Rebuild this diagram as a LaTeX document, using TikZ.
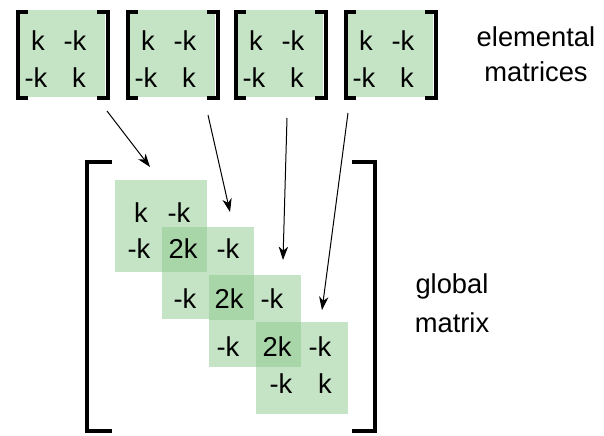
\documentclass[tikz,border=0pt]{standalone}
\usepackage{fontspec}
\setmainfont{Liberation Sans}
\usetikzlibrary{arrows.meta}
\definecolor{lg}{RGB}{197,228,197}
\definecolor{dg}{RGB}{168,214,168}
\tikzset{
  ent/.style={anchor=base, inner sep=0pt, font=\fontsize{20.5}{24}\selectfont},
  lbl/.style={anchor=base, inner sep=0pt, font=\fontsize{20.5}{24}\selectfont},
  elem/.style={fill=lg, draw=none, inner sep=0pt, minimum width=63.75pt, minimum height=65.25pt},
  blk/.style={fill=lg, draw=none, inner sep=0pt, minimum width=69pt, minimum height=69pt},
  ovl/.style={fill=dg, draw=none, inner sep=0pt, minimum width=33.75pt, minimum height=33.75pt},
  brk/.style={line width=3pt, line join=miter},
  arr/.style={line width=0.75pt, -{Stealth[length=10pt, width=7pt, inset=3pt]}}
}
\begin{document}
\begin{tikzpicture}[x=0.75pt,y=-0.75pt]
\useasboundingbox (0,0) rectangle (604,436);

% elemental matrices
\foreach \i/\x in {1/15,2/125,3/233,4/343}{
  \node[elem] (e\i) at (\x+47.5,53.5) {};
  \draw[brk] (\x+13,12) -- (\x+2.5,12) -- (\x+2.5,98) -- (\x+13,98);
  \draw[brk] (\x+82,12) -- (\x+92.5,12) -- (\x+92.5,98) -- (\x+82,98);
  \node[ent] (e\i a) at (\x+23,50) {k};
  \node[ent] (e\i b) at (\x+60,50) {-k};
  \node[ent] (e\i c) at (\x+21,87) {-k};
  \node[ent] (e\i d) at (\x+64,87) {k};
}

% global matrix blocks
\node[blk] (b1) at (161,226) {};
\node[blk] (b2) at (208,273) {};
\node[blk] (b3) at (255,321) {};
\node[blk] (b4) at (302,368) {};
\node[ovl] (o1) at (184.5,249.5) {};
\node[ovl] (o2) at (231.5,297) {};
\node[ovl] (o3) at (278.5,344.5) {};

% global brackets
\draw[brk] (112,162) -- (87,162) -- (87,431) -- (112,431);
\draw[brk] (352,162) -- (375,162) -- (375,431) -- (352,431);

% global entries
\node[ent] (g11) at (141,222) {k};
\node[ent] (g12) at (179,222) {-k};
\node[ent] (g21) at (139,258) {-k};
\node[ent] (g22) at (183,258) {2k};
\node[ent] (g23) at (228,258) {-k};
\node[ent] (g32) at (185,308) {-k};
\node[ent] (g33) at (229,308) {2k};
\node[ent] (g34) at (272,308) {-k};
\node[ent] (g43) at (228,356) {-k};
\node[ent] (g44) at (277,356) {2k};
\node[ent] (g45) at (320,356) {-k};
\node[ent] (g54) at (281,393) {-k};
\node[ent] (g55) at (325,393) {k};

% arrows
\coordinate (s1) at (107,111);
\coordinate (t1) at (150,167);
\coordinate (s2) at (208,115);
\coordinate (t2) at (230,212);
\coordinate (s3) at (287,118);
\coordinate (t3) at (283,260);
\coordinate (s4) at (348,113);
\coordinate (t4) at (322,310);
\draw[arr] (s1) -- (t1);
\draw[arr] (s2) -- (t2);
\draw[arr] (s3) -- (t3);
\draw[arr] (s4) -- (t4);

% labels
\node[lbl] (l1) at (536,46) {elemental};
\node[lbl] (l2) at (536,81) {matrices};
\node[lbl] (l3) at (452,293) {global};
\node[lbl] (l4) at (452,332) {matrix};
\end{tikzpicture}
\end{document}
